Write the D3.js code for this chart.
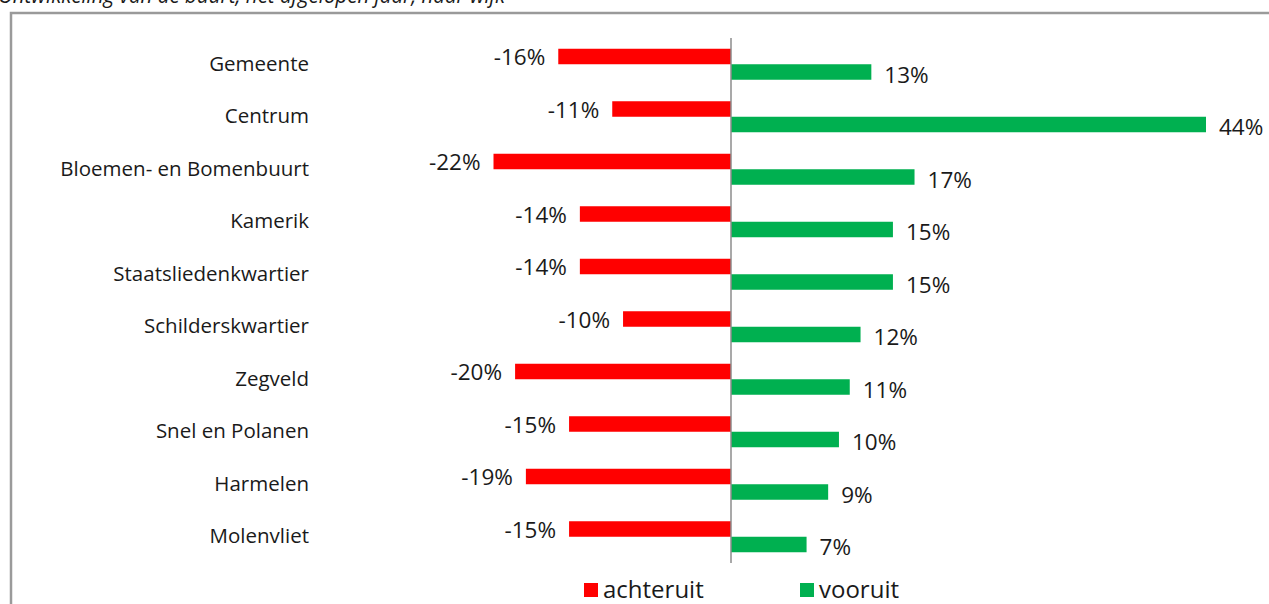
<!DOCTYPE html>
<html>
<head>
<meta charset="utf-8">
<script src="https://cdn.jsdelivr.net/npm/d3@7"></script>
<style>
  html, body { margin: 0; padding: 0; background: #fff; }
  svg { display: block; }
  text { font-family: "Open Sans", sans-serif; fill: #1a1a1a; }
</style>
</head>
<body>
<svg id="chart" width="1269" height="604"></svg>
<script>
const title = "Ontwikkeling van de buurt, het afgelopen jaar, naar wijk";
const categories = ["Gemeente", "Centrum", "Bloemen- en Bomenbuurt", "Kamerik", "Staatsliedenkwartier",
  "Schilderskwartier", "Zegveld", "Snel en Polanen", "Harmelen", "Molenvliet"];
const achteruit = [-16, -11, -22, -14, -14, -10, -20, -15, -19, -15];
const vooruit = [13, 44, 17, 15, 15, 12, 11, 10, 9, 7];
const seriesNames = ["achteruit", "vooruit"];
const seriesColors = ["#FF0000", "#00B050"];

const svg = d3.select("#chart");

// frame
svg.append("rect")
  .attr("x", 11).attr("y", 13)
  .attr("width", 1300).attr("height", 700)
  .attr("fill", "none").attr("stroke", "#9a9a9a").attr("stroke-width", 2.5);

// title (cut at top, as in the reference)
svg.append("text")
  .attr("x", -2).attr("y", 3)
  .attr("font-size", 21).attr("font-style", "italic")
  .attr("textLength", 507).attr("lengthAdjust", "spacingAndGlyphs")
  .attr("fill", "#222")
  .text(title);

const x = d3.scaleLinear().domain([0, 44]).range([731, 1206]);
const y = d3.scaleBand().domain(categories).range([38, 38 + 52.5 * categories.length]);
const barH = 15.5;

const rows = categories.map((c, i) => ({ c, a: achteruit[i], v: vooruit[i] }));

// red bars
svg.append("g").selectAll("rect").data(rows).join("rect")
  .attr("x", d => x(d.a))
  .attr("y", d => y(d.c) + y.bandwidth() / 2 - barH)
  .attr("width", d => x(0) - x(d.a))
  .attr("height", barH)
  .attr("fill", seriesColors[0]);

// green bars
svg.append("g").selectAll("rect").data(rows).join("rect")
  .attr("x", x(0))
  .attr("y", d => y(d.c) + y.bandwidth() / 2)
  .attr("width", d => x(d.v) - x(0))
  .attr("height", barH)
  .attr("fill", seriesColors[1]);

// zero axis
svg.append("line")
  .attr("x1", x(0)).attr("x2", x(0))
  .attr("y1", 38).attr("y2", 563)
  .attr("stroke", "#8c8c8c").attr("stroke-width", 1.5);

// category labels
const yAxis = d3.axisLeft(y).tickSize(0).tickPadding(0);
const gy = svg.append("g").attr("transform", "translate(309,0)").call(yAxis);
gy.select(".domain").remove();
gy.selectAll("text")
  .attr("font-size", 20.5)
  .style("font-family", '"Open Sans", sans-serif')
  .attr("fill", "#1a1a1a");

// value labels
svg.append("g").selectAll("text").data(rows).join("text")
  .attr("x", d => x(d.a) - 13)
  .attr("y", d => y(d.c) + y.bandwidth() / 2 - barH / 2 + 1)
  .attr("dy", "0.35em")
  .attr("text-anchor", "end")
  .attr("font-size", 22.5)
  .text(d => d.a + "%");

svg.append("g").selectAll("text").data(rows).join("text")
  .attr("x", d => x(d.v) + 13)
  .attr("y", d => y(d.c) + y.bandwidth() / 2 + barH / 2 + 3)
  .attr("dy", "0.35em")
  .attr("font-size", 22.5)
  .text(d => d.v + "%");

// legend
const legendX = [584, 800];
const lg = svg.append("g").selectAll("g").data(seriesNames).join("g")
  .attr("transform", (d, i) => `translate(${legendX[i]},583)`);
lg.append("rect").attr("width", 14).attr("height", 14).attr("fill", (d, i) => seriesColors[i]);
lg.append("text").attr("x", 19).attr("y", 7).attr("dy", "0.35em")
  .attr("font-size", 24).text(d => d);
</script>
</body>
</html>
